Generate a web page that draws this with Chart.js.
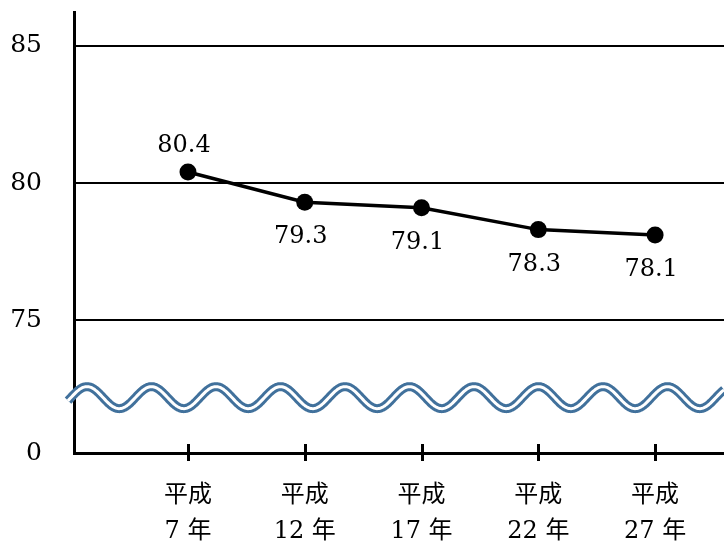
<!DOCTYPE html>
<html>
<head>
<meta charset="utf-8">
<script src="https://cdn.jsdelivr.net/npm/chart.js@4"></script>
<style>
html, body { margin: 0; padding: 0; background: #fff; }
#wrap { width: 724px; height: 546px; }
</style>
</head>
<body>
<div id="wrap"><canvas id="rateChart"></canvas></div>
<script>
// Data
const yearLabels = [ [ '平成', '7 年' ], [ '平成', '12 年' ], [ '平成', '17 年' ], [ '平成', '22 年' ], [ '平成', '27 年' ] ];
const yearIndex = [ 1, 2, 3, 4, 5 ];
const rateValues = [ 80.4, 79.3, 79.1, 78.3, 78.1 ];
const yTickValues = [ 75, 80, 85 ];
const yBaseLabel = '0';

const numFont = "'DejaVu Serif', 'Noto Sans CJK JP', serif";

// Double wavy line marking the broken y axis
const axisBreak = {
    id: 'axisBreak',
    afterDraw( chart )
    {
        const { ctx, scales: { x, y } } = chart;
        const cy = y.getPixelForValue( 72.17 );
        const amp = 11, period = 64.5;
        const x0 = x.left - 6, x1 = chart.width;
        const peak = x.left + 13;
        ctx.save();
        ctx.beginPath();
        for ( let px = x0; px <= x1; px += 1 )
        {
            const py = cy - amp * Math.cos( 2 * Math.PI * ( px - peak ) / period );
            if ( px === x0 ) ctx.moveTo( px, py ); else ctx.lineTo( px, py );
        }
        ctx.lineJoin = 'round';
        ctx.strokeStyle = '#41719c';
        ctx.lineWidth = 9;
        ctx.stroke();
        ctx.strokeStyle = '#ffffff';
        ctx.lineWidth = 3;
        ctx.stroke();
        ctx.restore();
    }
};

// Tick marks crossing the x axis
const crossTicks = {
    id: 'crossTicks',
    afterDraw( chart )
    {
        const { ctx, scales: { x, y } } = chart;
        ctx.save();
        ctx.strokeStyle = '#000';
        ctx.lineWidth = 3;
        x.ticks.forEach( t =>
        {
            const px = Math.round( x.getPixelForValue( t.value ) ) + 0.5;
            ctx.beginPath();
            ctx.moveTo( px, y.bottom - 9 );
            ctx.lineTo( px, y.bottom + 8 );
            ctx.stroke();
        } );
        ctx.restore();
    }
};

// Value labels: first above its point, the rest below
const valueLabels = {
    id: 'valueLabels',
    afterDatasetsDraw( chart )
    {
        const { ctx } = chart;
        const meta = chart.getDatasetMeta( 0 );
        ctx.save();
        ctx.font = '24px ' + numFont;
        ctx.fillStyle = '#000';
        ctx.textAlign = 'center';
        ctx.textBaseline = 'middle';
        meta.data.forEach( ( pt, i ) =>
        {
            const dy = i === 0 ? -26 : 35;
            ctx.fillText( rateValues[ i ].toFixed( 1 ), pt.x - 4, pt.y + dy );
        } );
        ctx.restore();
    }
};

let ctx = document.getElementById( 'rateChart' ).getContext( '2d' );
let chart = new Chart( ctx, {
    type: 'line',
    data: {
        datasets: [ {
            data: yearIndex.map( ( v, i ) => ( { x: v, y: rateValues[ i ] } ) ),
            borderColor: '#000',
            borderWidth: 3.5,
            pointRadius: 8.5,
            pointBackgroundColor: '#000',
            pointBorderWidth: 0,
            fill: false,
            tension: 0,
            clip: false
        } ]
    },
    options: {
        responsive: true,
        maintainAspectRatio: false,
        animation: false,
        layout: { autoPadding: false, padding: { top: 12, left: 0, right: 0, bottom: 0 } },
        plugins: {
            legend: { display: false },
            tooltip: { enabled: false }
        },
        scales: {
            x: {
                type: 'linear',
                min: 0.024,
                max: 5.59,
                afterBuildTicks: scale => { scale.ticks = yearIndex.map( v => ( { value: v } ) ); },
                afterFit: scale =>
                {
                    scale.height = 93;
                    scale.paddingLeft = 0;
                    scale.paddingRight = 0;
                },
                grid: { drawOnChartArea: false, drawTicks: false },
                border: { display: true, color: '#000', width: 3 },
                ticks: {
                    padding: 25,
                    autoSkip: false,
                    maxRotation: 0,
                    color: '#000',
                    font: { family: numFont, size: 24, lineHeight: 1.5 },
                    callback: v => yearLabels[ yearIndex.indexOf( v ) ]
                }
            },
            y: {
                min: 70.15,
                max: 86.24,
                afterBuildTicks: scale =>
                {
                    scale.ticks = [ { value: scale.min } ].concat( yTickValues.map( v => ( { value: v } ) ) );
                },
                afterFit: scale =>
                {
                    scale.width = 74;
                    scale.paddingTop = 0;
                    scale.paddingBottom = 0;
                },
                grid: { color: '#000', lineWidth: 2, drawTicks: false },
                border: { display: true, color: '#000', width: 3 },
                ticks: {
                    padding: 32,
                    color: '#000',
                    font: { family: numFont, size: 25 },
                    callback: v => v === 70.15 ? yBaseLabel : String( v )
                }
            }
        }
    },
    plugins: [ valueLabels, crossTicks, axisBreak ]
} );
</script>
</body>
</html>
